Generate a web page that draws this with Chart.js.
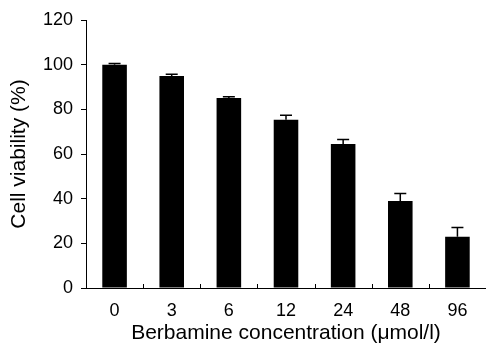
<!DOCTYPE html>
<html>
<head>
<meta charset="utf-8">
<script src="https://cdn.jsdelivr.net/npm/chart.js@4"></script>
<style>
  html, body { margin: 0; padding: 0; background: #fff; }
  #wrap { width: 486px; height: 348px; }
</style>
</head>
<body>
<div id="wrap"><canvas id="chart" width="486" height="348"></canvas></div>
<script>
const concentrations = ["0", "3", "6", "12", "24", "48", "96"];
const viability = [100, 94.9, 85.1, 75.3, 64.5, 39.0, 22.9];
const viabilityErr = [0.5, 0.8, 0.5, 2.0, 2.0, 3.3, 4.2];
const yTicks = [0, 20, 40, 60, 80, 100, 120];

// upward error bars with a small cap
const errorBars = {
  id: "errorBars",
  afterDatasetsDraw(chart) {
    const ctx = chart.ctx;
    const y = chart.scales.y;
    const meta = chart.getDatasetMeta(0);
    ctx.save();
    ctx.strokeStyle = "#000";
    ctx.lineWidth = 1.5;
    meta.data.forEach((bar, i) => {
      const top = y.getPixelForValue(viability[i]);
      const err = y.getPixelForValue(viability[i] + viabilityErr[i]);
      ctx.beginPath();
      ctx.moveTo(bar.x, top);
      ctx.lineTo(bar.x, err);
      ctx.moveTo(bar.x - 6, err);
      ctx.lineTo(bar.x + 6, err);
      ctx.stroke();
    });
    ctx.restore();
  }
};

// x ticks between categories, pointing into the plot
const innerTicks = {
  id: "innerTicks",
  afterDraw(chart) {
    const ctx = chart.ctx;
    const x = chart.scales.x;
    const base = chart.chartArea.bottom;
    ctx.save();
    ctx.strokeStyle = "#000";
    ctx.lineWidth = 1;
    for (let i = 1; i < concentrations.length; i++) {
      const px = Math.round((x.getPixelForValue(i - 1) + x.getPixelForValue(i)) / 2) + 0.5;
      ctx.beginPath();
      ctx.moveTo(px, base);
      ctx.lineTo(px, base - 4);
      ctx.stroke();
    }
    ctx.restore();
  }
};

new Chart(document.getElementById("chart").getContext("2d"), {
  type: "bar",
  data: {
    labels: concentrations,
    datasets: [{
      data: viability,
      backgroundColor: "#000",
      borderWidth: 0,
      categoryPercentage: 1,
      barPercentage: 0.43
    }]
  },
  options: {
    responsive: false,
    animation: false,
    layout: { padding: { top: 20, right: 0, left: 0, bottom: 0 } },
    plugins: { legend: { display: false }, tooltip: { enabled: false } },
    scales: {
      x: {
        grid: { display: false },
        border: { display: true, color: "#000", width: 1 },
        ticks: {
          color: "#000",
          padding: 4,
          font: { family: "Liberation Sans, Arial, sans-serif", size: 18 }
        },
        title: {
          display: true,
          text: "Berbamine concentration (μmol/l)",
          color: "#000",
          padding: { top: 0, bottom: 2 },
          font: { family: "Liberation Sans, Arial, sans-serif", size: 21 }
        },
        afterFit(scale) { scale.height = 60; }
      },
      y: {
        min: 0,
        max: 120,
        afterBuildTicks(scale) { scale.ticks = yTicks.map(v => ({ value: v })); },
        grid: { drawOnChartArea: false, drawTicks: true, tickLength: 5, color: "#000" },
        border: { display: true, color: "#000", width: 1 },
        ticks: {
          color: "#000",
          padding: 8,
          font: { family: "Liberation Sans, Arial, sans-serif", size: 18 }
        },
        title: {
          display: true,
          text: "Cell viability (%)",
          color: "#000",
          padding: { top: 7, bottom: 0 },
          font: { family: "Liberation Sans, Arial, sans-serif", size: 21 }
        },
        afterFit(scale) { scale.width = 86; }
      }
    }
  },
  plugins: [errorBars, innerTicks]
});
</script>
</body>
</html>
